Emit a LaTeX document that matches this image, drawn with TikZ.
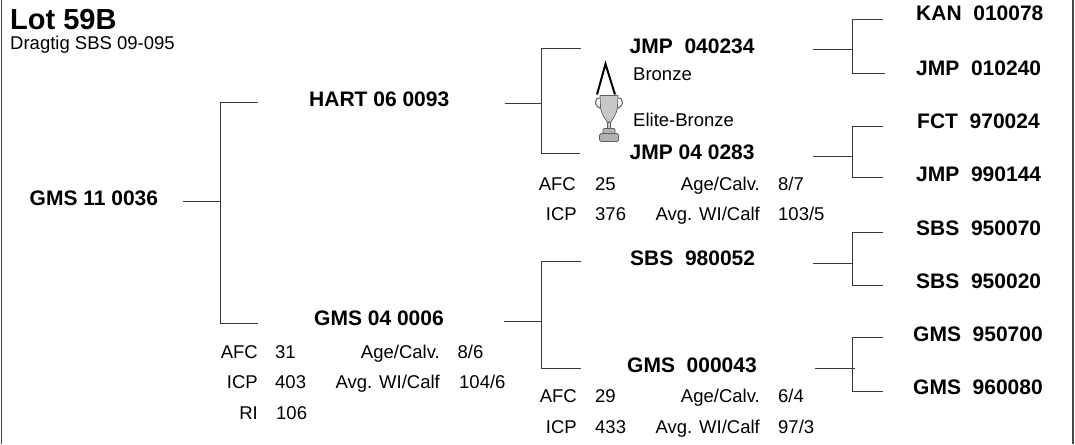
\documentclass[tikz,border=0pt]{standalone}
\usepackage{fontspec}
\setmainfont{Liberation Sans}
\newcommand{\forkline}[4]{%
  \draw[conn] (#1) -- (#1 -| #2);
  \draw[conn] (#3) -- (#3 -| #2) -- (#4 -| #2) -- (#4);
}
\tikzset{
  conn/.style={draw=black!78, line width=0.8pt},
  frameline/.style={draw=black!72, line width=1.1pt},
  big/.style={anchor=base west, inner sep=0pt, font=\fontsize{21}{21}\selectfont\bfseries},
  title/.style={anchor=base west, inner sep=0pt, font=\fontsize{29}{29}\selectfont\bfseries},
  small/.style={anchor=base west, inner sep=0pt, font=\fontsize{18.5}{18.5}\selectfont},
  smallr/.style={anchor=base east, inner sep=0pt, font=\fontsize{18.5}{18.5}\selectfont},
  cupline/.style={draw=black!62, line width=0.7pt},
  cuphandle/.style={draw=black!62, line width=1.1pt},
}
\begin{document}
\begin{tikzpicture}[x=1pt,y=-1pt]
\useasboundingbox (0,0) rectangle (1075,444);
\coordinate (fl1) at (1.5,0); \coordinate (fl2) at (1.5,444);
\coordinate (fr1) at (1073,0); \coordinate (fr2) at (1073,444);
\draw[frameline] (fl1) -- (fl2);
\draw[frameline] (fr1) -- (fr2);

\node[title] (lot) at (10,30) {Lot 59B};
\node[small] (drag) at (10,50) {Dragtig SBS 09-095};

\node[big] (root) at (29.5,205) {GMS 11 0036};
\node[big] (hart) at (309,106) {HART 06 0093};
\node[big] (gms04) at (314,325) {GMS 04 0006};
\node[big] (jmp1) at (629.5,53.5) {JMP\ \ 040234};
\node[big] (jmp2) at (629.5,159) {JMP 04 0283};
\node[big] (sbs) at (630,265) {SBS\ \ 980052};
\node[big] (gms0) at (627,372) {GMS\ \ 000043};
\node[big] (kan) at (916,21) {KAN\ \ 010078};
\node[big] (jmp3) at (916,75) {JMP\ \ 010240};
\node[big] (fct) at (917,128) {FCT\ \ 970024};
\node[big] (jmp4) at (916,181) {JMP\ \ 990144};
\node[big] (sbs1) at (916,235) {SBS\ \ 950070};
\node[big] (sbs2) at (916,288) {SBS\ \ 950020};
\node[big] (gms1) at (913,341) {GMS\ \ 950700};
\node[big] (gms2) at (913,394) {GMS\ \ 960080};

\node[small] (bronze) at (633,80) {Bronze};
\node[small] (elite) at (633,126) {Elite-Bronze};

% stats, GMS 04 0006
\node[smallr] (a1) at (258,358) {AFC};
\node[small] (a2) at (275,358) {31};
\node[smallr] (a3) at (440,358) {Age/Calv.};
\node[small] (a4) at (457.5,358) {8/6};
\node[smallr] (a5) at (258,388) {ICP};
\node[small] (a6) at (275,388) {403};
\node[smallr] (a7) at (440,388) {Avg. WI/Calf};
\node[small] (a8) at (459,388) {104/6};
\node[smallr] (a9) at (258,419) {RI};
\node[small] (a10) at (276,419) {106};
% stats, JMP 04 0283
\node[smallr] (b1) at (576,190) {AFC};
\node[small] (b2) at (595,190) {25};
\node[smallr] (b3) at (760,190) {Age/Calv.};
\node[small] (b4) at (778,190) {8/7};
\node[smallr] (b5) at (577,220) {ICP};
\node[small] (b6) at (595,220) {376};
\node[smallr] (b7) at (760,220) {Avg. WI/Calf};
\node[small] (b8) at (778,220) {103/5};
% stats, GMS 000043
\node[smallr] (c1) at (577,402) {AFC};
\node[small] (c2) at (595,402) {29};
\node[smallr] (c3) at (760,402) {Age/Calv.};
\node[small] (c4) at (778,402) {6/4};
\node[smallr] (c5) at (577,433) {ICP};
\node[small] (c6) at (595,433) {433};
\node[smallr] (c7) at (760,433) {Avg. WI/Calf};
\node[small] (c8) at (778,433) {97/3};

% forks
\coordinate (sA) at (183,201); \coordinate (jA) at (220,201);
\coordinate (tA) at (258,102); \coordinate (uA) at (258,323);
\forkline{sA}{jA}{tA}{uA}
\coordinate (sB) at (505,103); \coordinate (jB) at (541.5,103);
\coordinate (tB) at (581,48); \coordinate (uB) at (580,153);
\forkline{sB}{jB}{tB}{uB}
\coordinate (sC) at (504,321); \coordinate (jC) at (541.5,321);
\coordinate (tC) at (581,261); \coordinate (uC) at (581,368);
\forkline{sC}{jC}{tC}{uC}
\coordinate (sD) at (813,49); \coordinate (jD) at (852.5,49);
\coordinate (tD) at (883,19); \coordinate (uD) at (885,73);
\forkline{sD}{jD}{tD}{uD}
\coordinate (sE) at (813,156); \coordinate (jE) at (852.5,156);
\coordinate (tE) at (883,126); \coordinate (uE) at (883,177);
\forkline{sE}{jE}{tE}{uE}
\coordinate (sF) at (813,263); \coordinate (jF) at (852.5,263);
\coordinate (tF) at (883,232); \coordinate (uF) at (883,285);
\forkline{sF}{jF}{tF}{uF}
\coordinate (sG) at (815,368); \coordinate (jG) at (852.5,368);
\coordinate (tG) at (883,337); \coordinate (uG) at (883,391);
\draw[conn] (sG) -- (855,368);
\draw[conn] (tG) -- (tG -| jG) -- (uG -| jG) -- (uG);

% trophy
\draw[black, line width=2pt] (597,94.5) -- (605.5,64) -- (615,94.5);
\draw[cuphandle] (601,98) .. controls (593,97) and (594,107) .. (602,109);
\draw[cuphandle] (617,98) .. controls (625,97) and (624,107) .. (616,109);
\draw[cupline, fill=black!22]
  (600,95.5) -- (618,95.5) -- (617.5,106) .. controls (617,115) and (612,119) .. (611,122)
  -- (607,122) .. controls (606,119) and (601,115) .. (600.5,106) -- cycle;
\draw[cupline, fill=black!22] (607.5,122) rectangle (610.5,129);
\draw[cupline, fill=black!30, rounded corners=1pt] (603,128.5) rectangle (615,134);
\draw[cupline, fill=black!30, rounded corners=1.5pt] (599.5,133.5) rectangle (618.5,141.5);
\end{tikzpicture}
\end{document}
